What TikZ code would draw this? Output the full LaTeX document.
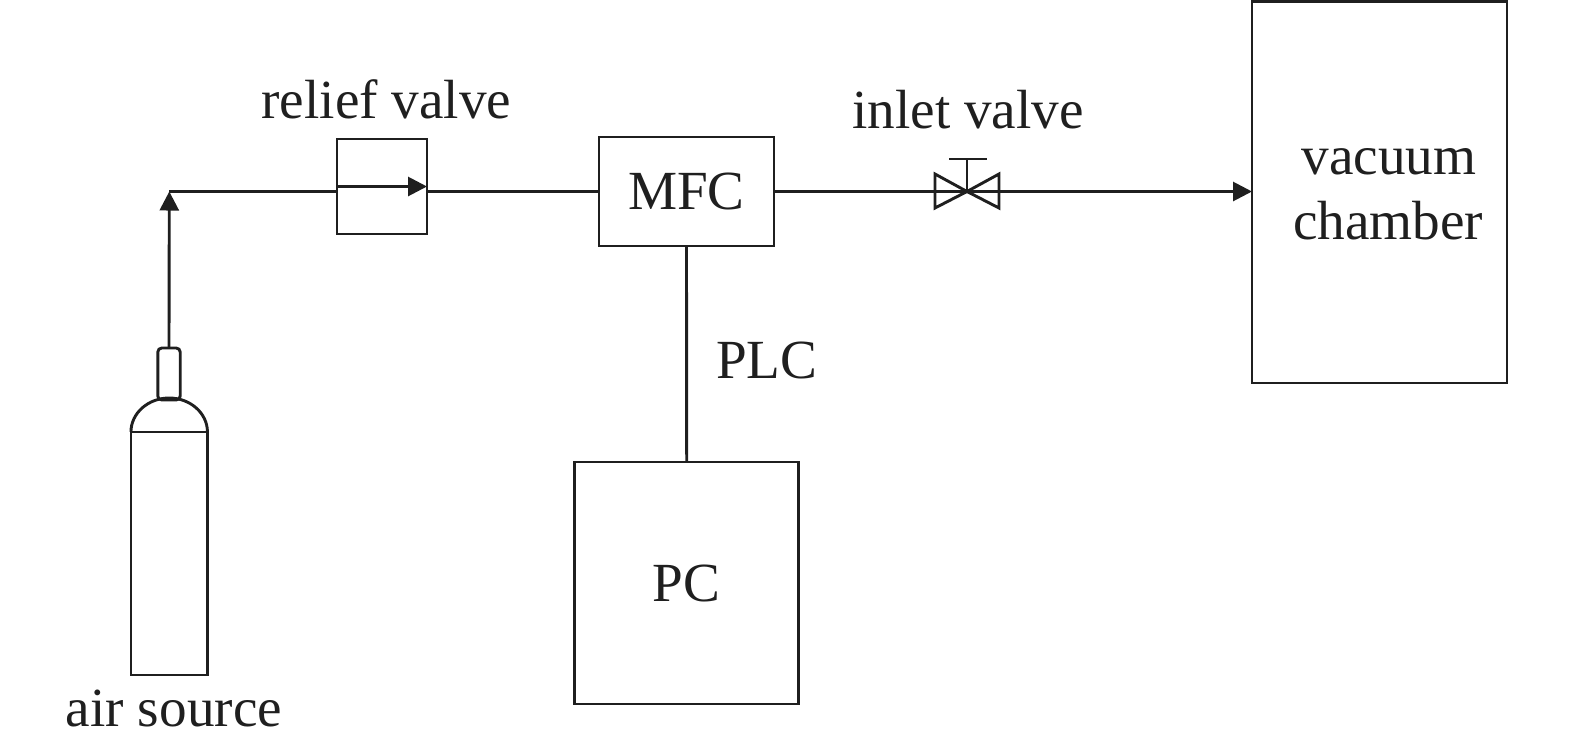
\documentclass[tikz,border=0pt]{standalone}
\usepackage{fontspec}
\setmainfont{Liberation Serif}
\usetikzlibrary{arrows.meta}
\begin{document}
\begin{tikzpicture}[x=0.5pt,y=-0.5pt,
  every node/.style={font=\fontsize{27.6pt}{32.5pt}\selectfont, text=black!88},
  line/.style={line width=1.45pt, draw=black!88},
  arrowline/.style={line width=1.45pt, draw=black!88, -{Triangle[length=9.5pt,width=9.5pt]}},
  box/.style={draw=black!88, line width=1.45pt, rectangle, inner sep=0pt, outer sep=0pt}]
\useasboundingbox (0,0) rectangle (1575,745);
% air source cylinder
\node[box, minimum width=38.25pt, minimum height=121.5pt] (body) at (169.2,553.5) {};
\node[box, rounded corners=2pt, minimum width=11.2pt, minimum height=26pt] (neck) at (169,374) {};
\draw[line] (body.north west) arc[start angle=180, end angle=0, x radius=19.125pt, y radius=17pt];
\node[anchor=base] (airlbl) at (174,726) {air source};
% relief valve
\node[box, minimum width=45pt, minimum height=47.5pt] (rv) at (382,186.5) {};
\node[anchor=base] (rvlbl) at (386.5,118) {relief valve};
\draw[arrowline] (rv.west) -- (rv.east);
% MFC
\node[box, minimum width=87.5pt, minimum height=54.5pt] (mfc) at (686.5,191.5) {MFC};
% PC
\node[box, minimum width=112pt, minimum height=121pt] (pc) at (686.7,583) {PC};
\node[anchor=base west] (plc) at (709,378) {PLC};
% vacuum chamber
\node[box, minimum width=127.5pt, minimum height=190.75pt] (ch) at (1379.5,192.25) {};
\node[anchor=base] (chl1) at (1389,174) {vacuum};
\node[anchor=base] (chl2) at (1388,239) {chamber};
% inlet valve
\coordinate (iv) at (967,191.5);
\coordinate (ivtop) at (967,159);
\node[anchor=base] (ivlbl) at (968,128) {inlet valve};
\draw[line, line join=miter] (935,174) -- (935,208) -- (iv) -- cycle;
\draw[line, line join=miter] (999,174) -- (999,208) -- (iv) -- cycle;
\draw[line] (iv) -- (ivtop);
\draw[line] (949,159) -- (987,159);
% connectors
\coordinate (corner) at (169.3,191.5);
\draw[arrowline] (neck.north) -- (corner);
\draw[line] (corner) -- (corner -| rv.west);
\draw[line] (corner -| rv.east) -- (mfc.west);
\draw[arrowline] (mfc.east) -- (ch.west |- mfc.east);
\draw[line] (mfc.south) -- (pc.north);
\end{tikzpicture}
\end{document}
